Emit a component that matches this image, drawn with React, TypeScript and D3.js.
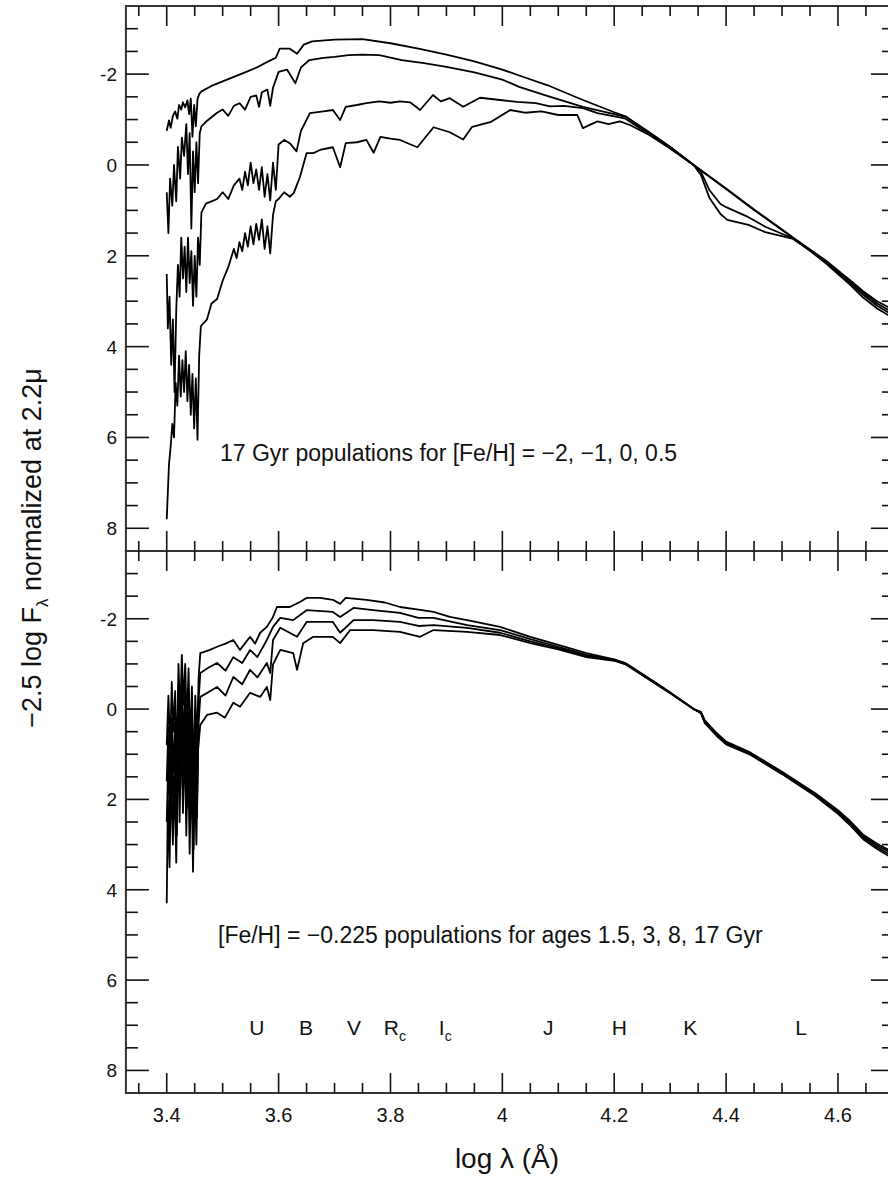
import React from 'react';
import * as d3 from 'd3';

type Pt = [number, number];

// ---------- Top panel: 17 Gyr populations, [Fe/H] = -2, -1, 0, 0.5 ----------
const feHm2: Pt[] = [
  [3.400,-0.75],[3.404,-0.98],[3.407,-0.82],[3.411,-1.08],[3.415,-1.18],[3.419,-1.02],[3.422,-1.32],[3.426,-1.22],
  [3.429,-1.38],[3.433,-1.27],[3.437,-1.42],[3.440,-1.12],[3.443,-1.46],[3.446,-0.62],[3.449,-1.32],[3.452,-0.85],
  [3.455,-1.45],[3.458,-1.56],[3.462,-1.62],[3.48,-1.74],[3.50,-1.84],[3.52,-1.94],[3.54,-2.04],[3.56,-2.14],
  [3.58,-2.27],[3.595,-2.36],[3.602,-2.56],[3.62,-2.56],[3.633,-2.45],[3.645,-2.65],[3.66,-2.72],[3.70,-2.76],
  [3.75,-2.77],[3.80,-2.68],[3.85,-2.56],[3.90,-2.43],[3.95,-2.28],[4.00,-2.10],[4.03,-1.97],[4.08,-1.76],
  [4.144,-1.43],[4.20,-1.16],[4.22,-1.07],[4.26,-0.74],[4.30,-0.40],[4.342,0],[4.40,0.52],[4.45,0.98],
  [4.50,1.42],[4.52,1.60],[4.55,1.86],[4.58,2.12],[4.60,2.32],[4.62,2.52],[4.645,2.78],[4.67,3.0],[4.70,3.20]
];
const feHm1: Pt[] = [
  [3.400,0.6],[3.403,1.5],[3.406,0.3],[3.410,0.9],[3.413,0.0],[3.417,0.8],[3.420,-0.4],[3.424,0.3],
  [3.427,-0.6],[3.431,-0.2],[3.435,-0.9],[3.438,0.2],[3.441,-0.7],[3.444,1.4],[3.447,-0.3],[3.450,0.6],
  [3.453,-0.5],[3.456,0.4],[3.459,-0.7],[3.462,-0.85],[3.47,-0.95],[3.48,-1.05],[3.49,-1.15],[3.50,-1.22],
  [3.51,-1.08],[3.52,-1.30],[3.53,-1.36],[3.54,-1.22],[3.55,-1.50],[3.56,-1.53],[3.565,-1.28],[3.57,-1.60],
  [3.58,-1.66],[3.585,-1.30],[3.59,-1.70],[3.60,-2.05],[3.615,-2.10],[3.63,-1.80],[3.64,-2.15],[3.655,-2.31],
  [3.68,-2.36],[3.70,-2.38],[3.725,-2.42],[3.75,-2.43],[3.78,-2.42],[3.82,-2.31],[3.86,-2.24],[3.90,-2.16],
  [3.95,-2.04],[4.00,-1.88],[4.03,-1.72],[4.08,-1.52],[4.144,-1.28],[4.20,-1.12],[4.22,-1.06],[4.26,-0.73],
  [4.30,-0.39],[4.342,0],[4.40,0.53],[4.45,0.99],[4.50,1.43],[4.52,1.61],[4.55,1.87],[4.58,2.14],[4.60,2.34],
  [4.62,2.55],[4.645,2.82],[4.67,3.05],[4.70,3.26]
];
const feH0: Pt[] = [
  [3.400,2.4],[3.402,3.6],[3.405,2.9],[3.408,4.4],[3.411,3.4],[3.414,5.0],[3.417,3.2],[3.420,2.2],
  [3.423,2.9],[3.426,1.6],[3.429,2.5],[3.432,1.8],[3.435,2.8],[3.438,1.6],[3.441,2.6],[3.444,1.9],
  [3.447,3.1],[3.450,2.0],[3.453,2.9],[3.456,1.6],[3.459,2.2],[3.462,1.05],[3.47,0.85],[3.48,0.80],
  [3.49,0.75],[3.50,0.60],[3.51,0.75],[3.52,0.45],[3.53,0.30],[3.535,0.55],[3.54,0.15],[3.545,0.45],
  [3.55,-0.05],[3.555,0.40],[3.56,0.10],[3.565,0.55],[3.57,0.05],[3.575,0.70],[3.58,0.20],[3.585,0.78],
  [3.59,-0.05],[3.595,0.55],[3.60,-0.45],[3.61,-0.55],[3.62,-0.48],[3.632,-0.30],[3.64,-0.75],[3.656,-1.14],
  [3.68,-1.18],[3.697,-1.21],[3.71,-0.99],[3.72,-1.28],[3.74,-1.32],[3.757,-1.36],[3.78,-1.40],[3.80,-1.37],
  [3.817,-1.40],[3.835,-1.38],[3.853,-1.21],[3.876,-1.54],[3.89,-1.40],[3.906,-1.47],[3.93,-1.28],[3.96,-1.48],
  [3.996,-1.43],[4.026,-1.39],[4.06,-1.36],[4.085,-1.29],[4.11,-1.30],[4.144,-1.25],[4.17,-1.14],[4.205,-1.06],
  [4.22,-1.02],[4.26,-0.70],[4.30,-0.37],[4.342,0],[4.355,0.15],[4.37,0.55],[4.39,0.86],[4.40,0.93],
  [4.44,1.15],[4.47,1.36],[4.52,1.62],[4.55,1.88],[4.58,2.16],[4.60,2.37],[4.62,2.58],[4.645,2.86],
  [4.67,3.10],[4.70,3.32]
];
const feHp05: Pt[] = [
  [3.400,7.8],[3.402,7.2],[3.404,6.6],[3.407,6.2],[3.410,5.7],[3.413,6.0],[3.416,4.8],[3.419,5.3],
  [3.422,4.2],[3.425,5.1],[3.428,4.3],[3.431,5.0],[3.434,4.1],[3.437,5.2],[3.440,4.4],[3.443,5.5],
  [3.446,4.6],[3.449,5.8],[3.452,4.7],[3.455,6.05],[3.458,4.2],[3.461,3.55],[3.472,3.40],[3.48,3.05],
  [3.49,2.95],[3.50,2.55],[3.51,2.25],[3.52,1.85],[3.525,2.05],[3.53,1.70],[3.535,1.90],[3.54,1.50],
  [3.545,1.80],[3.55,1.35],[3.555,1.75],[3.56,1.30],[3.565,1.65],[3.57,1.20],[3.575,1.85],[3.58,1.35],
  [3.585,1.95],[3.59,1.10],[3.595,0.80],[3.60,0.75],[3.61,0.60],[3.62,0.70],[3.627,0.62],[3.638,0.27],
  [3.65,-0.26],[3.662,-0.26],[3.674,-0.33],[3.697,-0.39],[3.71,0.05],[3.72,-0.48],[3.74,-0.50],[3.757,-0.55],
  [3.77,-0.27],[3.782,-0.62],[3.80,-0.58],[3.817,-0.55],[3.848,-0.39],[3.877,-0.83],[3.906,-0.72],[3.93,-0.56],
  [3.946,-0.84],[3.98,-0.95],[4.014,-1.21],[4.04,-1.15],[4.07,-1.18],[4.10,-1.10],[4.134,-1.10],[4.144,-0.81],
  [4.17,-0.96],[4.19,-0.90],[4.21,-0.96],[4.228,-0.88],[4.26,-0.68],[4.30,-0.36],[4.342,0],[4.355,0.22],
  [4.37,0.72],[4.39,1.08],[4.402,1.21],[4.44,1.32],[4.47,1.48],[4.52,1.63],[4.55,1.89],[4.58,2.18],
  [4.60,2.40],[4.62,2.62],[4.645,2.92],[4.67,3.16],[4.70,3.38]
];

// ---------- Bottom panel: [Fe/H] = -0.225, ages 1.5, 3, 8, 17 Gyr ----------
const age1p5: Pt[] = [
  [3.400,0.8],[3.403,-0.3],[3.406,0.9],[3.409,-0.6],[3.412,0.5],[3.415,-0.4],[3.418,1.2],[3.421,-1.0],
  [3.424,0.2],[3.427,-1.2],[3.430,-0.1],[3.433,-1.0],[3.436,0.4],[3.439,-0.9],[3.442,0.9],[3.445,-0.5],
  [3.448,1.6],[3.451,-0.3],[3.454,0.8],[3.457,-0.7],[3.46,-1.24],[3.475,-1.30],[3.49,-1.38],[3.505,-1.45],
  [3.519,-1.53],[3.531,-1.31],[3.549,-1.60],[3.558,-1.45],[3.567,-1.69],[3.579,-1.82],[3.59,-2.04],[3.597,-2.26],
  [3.62,-2.26],[3.638,-2.37],[3.65,-2.46],[3.674,-2.46],[3.697,-2.42],[3.71,-2.33],[3.72,-2.46],[3.757,-2.42],
  [3.79,-2.36],[3.817,-2.26],[3.85,-2.20],[3.877,-2.15],[3.906,-2.04],[3.937,-1.97],[3.996,-1.82],[4.05,-1.60],
  [4.10,-1.42],[4.15,-1.24],[4.20,-1.10],[4.22,-1.02],[4.26,-0.70],[4.30,-0.37],[4.342,0],[4.355,0.06],
  [4.362,0.25],[4.383,0.53],[4.40,0.72],[4.443,0.96],[4.50,1.39],[4.56,1.87],[4.60,2.24],[4.62,2.46],
  [4.645,2.78],[4.67,2.98],[4.70,3.18]
];
const age3: Pt[] = [
  [3.400,1.6],[3.403,0.4],[3.406,1.8],[3.409,0.2],[3.412,1.4],[3.415,0.3],[3.418,2.0],[3.421,-0.5],
  [3.424,1.0],[3.427,-0.7],[3.430,0.8],[3.433,-0.4],[3.436,1.3],[3.439,-0.3],[3.442,1.8],[3.445,0.1],
  [3.448,2.5],[3.451,0.3],[3.454,1.6],[3.457,-0.2],[3.46,-0.80],[3.475,-0.92],[3.49,-1.02],[3.505,-0.85],
  [3.519,-1.15],[3.535,-1.02],[3.549,-1.31],[3.562,-1.15],[3.579,-1.53],[3.59,-1.82],[3.603,-2.02],[3.626,-1.97],
  [3.65,-2.19],[3.697,-2.15],[3.71,-2.04],[3.734,-2.24],[3.769,-2.19],[3.817,-2.13],[3.85,-2.02],[3.877,-2.02],
  [3.906,-1.94],[3.937,-1.86],[3.996,-1.75],[4.05,-1.55],[4.10,-1.38],[4.15,-1.20],[4.20,-1.09],[4.22,-1.01],
  [4.26,-0.69],[4.30,-0.36],[4.342,0],[4.355,0.07],[4.362,0.27],[4.383,0.55],[4.40,0.74],[4.443,0.97],
  [4.50,1.40],[4.56,1.89],[4.60,2.26],[4.62,2.49],[4.645,2.81],[4.67,3.02],[4.70,3.22]
];
const age8: Pt[] = [
  [3.400,2.5],[3.403,1.0],[3.406,2.8],[3.409,0.8],[3.412,2.3],[3.415,0.9],[3.418,2.8],[3.421,0.0],
  [3.424,1.8],[3.427,-0.2],[3.430,1.6],[3.433,0.1],[3.436,2.2],[3.439,0.2],[3.442,2.6],[3.445,0.6],
  [3.448,3.1],[3.451,0.8],[3.454,2.4],[3.457,0.3],[3.46,-0.27],[3.475,-0.38],[3.49,-0.49],[3.505,-0.30],
  [3.519,-0.71],[3.535,-0.55],[3.549,-0.87],[3.562,-0.70],[3.579,-1.02],[3.585,-0.80],[3.59,-1.53],[3.603,-1.80],
  [3.633,-1.60],[3.65,-1.93],[3.697,-1.93],[3.71,-1.69],[3.734,-1.97],[3.769,-1.97],[3.817,-1.93],[3.85,-1.84],
  [3.877,-1.86],[3.937,-1.80],[3.996,-1.69],[4.05,-1.50],[4.10,-1.35],[4.15,-1.18],[4.20,-1.08],[4.22,-1.00],
  [4.26,-0.68],[4.30,-0.36],[4.342,0],[4.355,0.08],[4.362,0.29],[4.383,0.57],[4.40,0.76],[4.443,0.99],
  [4.50,1.42],[4.56,1.91],[4.60,2.29],[4.62,2.52],[4.645,2.85],[4.67,3.06],[4.70,3.27]
];
const age17: Pt[] = [
  [3.400,4.3],[3.402,2.0],[3.405,3.5],[3.408,1.4],[3.411,3.0],[3.414,1.5],[3.417,3.4],[3.420,0.6],
  [3.423,2.5],[3.426,0.4],[3.429,2.3],[3.432,0.6],[3.435,2.8],[3.438,0.8],[3.441,3.2],[3.444,1.1],
  [3.447,3.6],[3.450,1.3],[3.453,3.0],[3.456,0.9],[3.46,0.35],[3.472,0.13],[3.49,0.08],[3.504,0.19],
  [3.519,-0.14],[3.531,-0.05],[3.549,-0.36],[3.567,-0.27],[3.579,-0.49],[3.585,-0.20],[3.59,-0.99],[3.603,-1.31],
  [3.626,-1.24],[3.633,-0.87],[3.644,-1.46],[3.662,-1.60],[3.697,-1.60],[3.71,-1.46],[3.728,-1.75],[3.769,-1.75],
  [3.817,-1.71],[3.853,-1.60],[3.877,-1.75],[3.937,-1.71],[3.996,-1.64],[4.05,-1.46],[4.10,-1.32],[4.15,-1.15],
  [4.20,-1.07],[4.22,-0.99],[4.26,-0.67],[4.30,-0.35],[4.342,0],[4.355,0.09],[4.362,0.31],[4.383,0.59],
  [4.40,0.78],[4.443,1.01],[4.50,1.44],[4.56,1.93],[4.60,2.32],[4.62,2.55],[4.645,2.88],[4.67,3.10],[4.70,3.32]
];

// ---------- Labels ----------
const bandNames = ['U', 'B', 'V', 'R', 'I', 'J', 'H', 'K', 'L'];
const bandSubs = ['', '', '', 'c', 'c', '', '', '', ''];
const bandLogLambda = [3.561, 3.649, 3.735, 3.808, 3.898, 4.082, 4.209, 4.336, 4.534];
const xTickLabels = [3.4, 3.6, 3.8, 4, 4.2, 4.4, 4.6];
const yTickLabels = [-2, 0, 2, 4, 6, 8];
const topNote = '17 Gyr populations for [Fe/H] = \u22122, \u22121, 0, 0.5';
const bottomNote = '[Fe/H] = \u22120.225 populations for ages 1.5, 3, 8, 17 Gyr';

const W = 888;
const H = 1177;
const FONT = '"Liberation Sans", Arial, Helvetica, sans-serif';

const x = d3.scaleLinear().domain([3.327, 4.7]).range([125.9, 893.9]);
const yTop = d3.scaleLinear().domain([-3.5, 8.5]).range([6, 551]);
const yBot = d3.scaleLinear().domain([-3.5, 8.5]).range([551, 1093]);

const xMinor = d3.range(0, 27).map((i) => 3.35 + i * 0.05);
const yMinor = d3.range(0, 23).map((i) => -3 + i * 0.5);

function Panel({ y, series, top }: { y: d3.ScaleLinear<number, number>; series: Pt[][]; top: boolean }) {
  const line = d3.line<Pt>().x((d) => x(d[0])).y((d) => y(d[1]));
  const [y0, y1] = y.range();
  const xl = x.range()[0];
  const xr = x.range()[1];
  const cid = top ? 'clipTop' : 'clipBot';
  return (
    <g>
      <defs>
        <clipPath id={cid}>
          <rect x={xl} y={y0} width={xr - xl} height={y1 - y0} />
        </clipPath>
      </defs>
      <g clipPath={`url(#${cid})`}>
        {series.map((s, i) => (
          <path key={i} d={line(s) || ''} fill="none" stroke="#000" strokeWidth={1.8} strokeLinejoin="round" />
        ))}
      </g>
      <rect x={xl} y={y0} width={xr - xl} height={y1 - y0} fill="none" stroke="#333" strokeWidth={2} />
      {xMinor.map((v, i) => {
        const major = Math.abs((v - 3.4) / 0.2 - Math.round((v - 3.4) / 0.2)) < 1e-6;
        const len = major ? 20 : 10;
        const px = x(v);
        return (
          <g key={'xt' + i}>
            <line x1={px} x2={px} y1={y0} y2={y0 + len} stroke="#111" strokeWidth={1.6} />
            <line x1={px} x2={px} y1={y1} y2={y1 - len} stroke="#111" strokeWidth={1.6} />
          </g>
        );
      })}
      {yMinor.map((v, i) => {
        const major = Math.abs(v / 2 - Math.round(v / 2)) < 1e-6;
        const len = major ? 23 : 12;
        const py = y(v);
        return (
          <g key={'yt' + i}>
            <line x1={xl} x2={xl + len} y1={py} y2={py} stroke="#111" strokeWidth={1.6} />
            <line x1={xr} x2={xr - len} y1={py} y2={py} stroke="#111" strokeWidth={1.6} />
          </g>
        );
      })}
      {yTickLabels.map((v) => (
        <text key={'yl' + v} x={117} y={y(v) + 7} textAnchor="end" fontSize={19} fontFamily={FONT} fill="#111">
          {v < 0 ? '-' + Math.abs(v) : String(v)}
        </text>
      ))}
    </g>
  );
}

export default function App() {
  return (
    <svg width={W} height={H} style={{ position: 'absolute', left: 0, top: 0, background: '#fff' }}>
      <rect x={0} y={0} width={W} height={H} fill="#fff" />
      <Panel y={yTop} series={[feHm2, feHm1, feH0, feHp05]} top={true} />
      <Panel y={yBot} series={[age1p5, age3, age8, age17]} top={false} />

      <text x={220} y={461} fontSize={23} fontFamily={FONT} fill="#111">{topNote}</text>
      <text x={218} y={943} fontSize={23} fontFamily={FONT} fill="#111">{bottomNote}</text>

      {bandNames.map((b, i) => (
        <text key={b + i} x={x(bandLogLambda[i])} y={1035} fontSize={21} fontFamily={FONT} fill="#111" textAnchor="middle">
          {b}
          {bandSubs[i] ? (
            <tspan fontSize={14} dy={6}>{bandSubs[i]}</tspan>
          ) : null}
        </text>
      ))}

      {xTickLabels.map((v) => (
        <text key={'xl' + v} x={x(v)} y={1122} textAnchor="middle" fontSize={20} fontFamily={FONT} fill="#111">
          {String(v)}
        </text>
      ))}

      <text x={507} y={1168} textAnchor="middle" fontSize={28} fontFamily={FONT} fill="#111">
        log λ (Å)
      </text>

      <text transform="translate(41,548) rotate(-90)" textAnchor="middle" fontSize={27} fontFamily={FONT} fill="#111">
        <tspan>−2.5 log F</tspan>
        <tspan fontSize={17} dy={7}>λ</tspan>
        <tspan dy={-7}> normalized at 2.2μ</tspan>
      </text>
    </svg>
  );
}
